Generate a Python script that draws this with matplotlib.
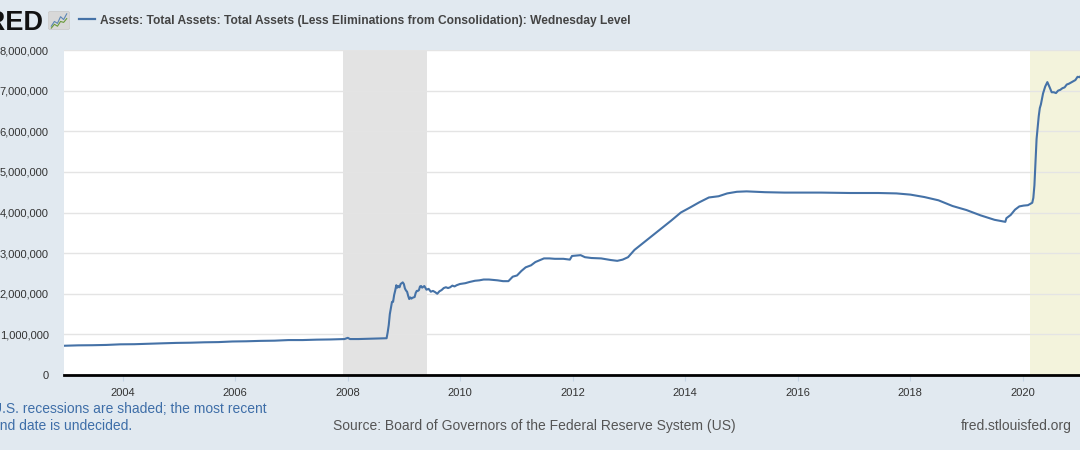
import numpy as np
import pandas as pd
import matplotlib
matplotlib.use("Agg")
import matplotlib.pyplot as plt
import matplotlib.dates as mdates
from matplotlib.patches import FancyBboxPatch

# Fed total assets, millions of USD
dates = [
    "2002-12-18", "2003-03-19", "2003-06-18", "2003-09-17", "2003-12-17",
    "2004-03-17", "2004-06-16", "2004-09-15", "2004-12-15", "2005-03-16",
    "2005-06-15", "2005-09-14", "2005-12-14", "2006-03-15", "2006-06-14",
    "2006-09-13", "2006-12-13", "2007-03-14", "2007-06-13", "2007-09-12",
    "2007-12-12", "2008-01-02", "2008-01-16", "2008-03-12", "2008-06-11",
    "2008-09-10", "2008-09-17", "2008-09-24", "2008-10-01", "2008-10-08",
    "2008-10-15", "2008-10-22", "2008-10-29", "2008-11-05", "2008-11-12",
    "2008-11-19", "2008-11-26", "2008-12-03", "2008-12-10", "2008-12-17",
    "2008-12-24", "2008-12-31", "2009-01-07", "2009-01-14", "2009-01-21",
    "2009-01-28", "2009-02-04", "2009-02-11", "2009-02-18", "2009-02-25",
    "2009-03-04", "2009-03-11", "2009-03-18", "2009-03-25", "2009-04-01",
    "2009-04-08", "2009-04-15", "2009-04-22", "2009-04-29", "2009-05-13",
    "2009-05-27", "2009-06-10", "2009-06-24", "2009-07-08", "2009-07-22",
    "2009-08-05", "2009-08-19", "2009-09-02", "2009-09-16", "2009-09-30",
    "2009-10-14", "2009-10-28", "2009-11-11", "2009-11-25", "2009-12-09",
    "2009-12-30", "2010-02-03", "2010-03-03", "2010-04-07", "2010-05-05",
    "2010-06-02", "2010-07-07", "2010-08-04", "2010-09-01", "2010-10-06",
    "2010-11-10", "2010-12-08", "2011-01-05", "2011-02-02", "2011-03-02",
    "2011-04-06", "2011-05-04", "2011-06-29", "2011-08-03", "2011-09-07",
    "2011-10-05", "2011-11-02", "2011-12-14", "2011-12-28", "2012-01-25",
    "2012-02-22", "2012-03-21", "2012-05-02", "2012-07-04", "2012-09-05",
    "2012-10-17", "2012-11-21", "2012-12-26", "2013-02-06", "2013-04-03",
    "2013-06-05", "2013-08-07", "2013-10-02", "2013-12-04", "2014-02-05",
    "2014-04-02", "2014-06-04", "2014-08-06", "2014-10-01", "2014-12-03",
    "2015-02-04", "2015-06-03", "2015-10-07", "2016-01-06", "2016-06-01",
    "2016-12-07", "2017-06-07", "2017-10-04", "2018-01-03", "2018-04-04",
    "2018-07-04", "2018-10-03", "2019-01-02", "2019-04-03", "2019-07-03",
    "2019-09-11", "2019-09-18", "2019-10-16", "2019-11-13", "2019-12-11",
    "2020-01-08", "2020-02-05", "2020-03-04", "2020-03-11", "2020-03-18",
    "2020-03-25", "2020-04-01", "2020-04-08", "2020-04-15", "2020-04-22",
    "2020-04-29", "2020-05-13", "2020-05-27", "2020-06-10", "2020-06-24",
    "2020-07-08", "2020-07-22", "2020-08-05", "2020-08-19", "2020-09-02",
    "2020-09-16", "2020-09-30", "2020-10-14", "2020-10-28", "2020-11-11",
    "2020-11-25", "2020-12-09", "2020-12-23", "2021-01-06", "2021-01-20",
    "2021-02-03",
]
assets = [
    720000, 730000, 733000, 740000, 755000,
    758000, 770000, 780000, 790000, 795000,
    805000, 810000, 825000, 830000, 840000,
    845000, 860000, 860000, 870000, 875000,
    885000, 915000, 885000, 885000, 895000,
    905000, 1050000, 1230000, 1500000, 1650000,
    1800000, 1800000, 1970000, 2080000, 2210000,
    2150000, 2190000, 2160000, 2240000, 2260000,
    2280000, 2240000, 2130000, 2080000, 2050000,
    1950000, 1870000, 1910000, 1880000, 1900000,
    1910000, 1920000, 2020000, 2070000, 2070000,
    2090000, 2180000, 2190000, 2150000, 2190000,
    2100000, 2120000, 2050000, 2070000, 2040000,
    2000000, 2060000, 2090000, 2140000, 2160000,
    2140000, 2160000, 2200000, 2180000, 2210000,
    2240000, 2260000, 2290000, 2320000, 2330000,
    2350000, 2350000, 2340000, 2330000, 2310000,
    2310000, 2420000, 2450000, 2560000, 2650000,
    2700000, 2780000, 2870000, 2870000, 2860000,
    2860000, 2860000, 2840000, 2930000, 2940000,
    2950000, 2900000, 2880000, 2870000, 2830000,
    2810000, 2840000, 2900000, 3080000, 3250000,
    3440000, 3630000, 3800000, 4000000, 4130000,
    4250000, 4370000, 4400000, 4470000, 4510000,
    4520000, 4500000, 4490000, 4490000, 4490000,
    4480000, 4480000, 4470000, 4440000, 4380000,
    4300000, 4160000, 4060000, 3930000, 3820000,
    3770000, 3860000, 3940000, 4070000, 4150000,
    4170000, 4180000, 4240000, 4360000, 4670000,
    5250000, 5810000, 6080000, 6370000, 6570000,
    6660000, 6930000, 7100000, 7210000, 7090000,
    6960000, 6960000, 6940000, 7000000, 7020000,
    7060000, 7080000, 7150000, 7170000, 7200000,
    7230000, 7260000, 7340000, 7330000, 7400000,
    7430000,
]

recessions = [("2007-12-01", "2009-06-01", "#e3e3e3"),
              ("2020-02-20", "2021-06-01", "#f3f3dc")]
y_ticks = [0, 1000000, 2000000, 3000000, 4000000, 5000000, 6000000, 7000000, 8000000]

title = "Assets: Total Assets: Total Assets (Less Eliminations from Consolidation): Wednesday Level"
note_1 = "U.S. recessions are shaded; the most recent"
note_2 = "end date is undecided."
source = "Source: Board of Governors of the Federal Reserve System (US)"

# little FRED chart icon
icon_blue = [0.2, 0.45, 0.35, 0.7, 0.55, 0.85]
icon_green = [0.1, 0.3, 0.2, 0.45, 0.4, 0.6]

BG = "#e1e9f0"
BLUE = "#4572a7"
W, H = 1080, 450
plt.rcParams["font.family"] = ["Liberation Sans", "DejaVu Sans"]


def fx(x):
    return x / W


def fy(y):
    return 1 - y / H


fig = plt.figure(figsize=(W / 100, H / 100), dpi=100, facecolor=BG)
ax = fig.add_axes([fx(64), fy(375), 1 - fx(64), (375 - 50) / H])

x = pd.to_datetime(dates)
for start, end, col in recessions:
    ax.axvspan(pd.Timestamp(start), pd.Timestamp(end), color=col, lw=0, zorder=0)
ax.plot(x, assets, color=BLUE, lw=1.5, zorder=3)

ax.set_xlim(pd.Timestamp("2002-12-16"), pd.Timestamp("2021-01-08"))
ax.set_ylim(0, 8000000)
ax.set_yticks(y_ticks)
ax.yaxis.set_major_formatter(matplotlib.ticker.FuncFormatter(lambda v, p: f"{int(v):,}"))
ax.xaxis.set_major_locator(mdates.YearLocator(2))
ax.xaxis.set_major_formatter(mdates.DateFormatter("%Y"))
ax.grid(axis="y", color="#e4e4e4", lw=1, zorder=1)
ax.set_axisbelow(True)
for s in ["left", "right", "top"]:
    ax.spines[s].set_visible(False)
ax.spines["bottom"].set_linewidth(2)
ax.spines["bottom"].set_color("black")
ax.spines["bottom"].set_zorder(4)
ax.tick_params(axis="y", length=0, pad=11, labelsize=8, labelcolor="#333333")
ax.tick_params(axis="x", length=4, width=0.8, color="#c5d5e5", pad=5,
               labelsize=8, labelcolor="#333333")

# header
fig.text(fx(43), fy(30), "FRED", ha="right", va="baseline", fontsize=19.5,
         fontweight="bold", family=["Liberation Sans Narrow", "Liberation Sans"],
         color="#111111")
iax = fig.add_axes([fx(48), fy(30), 22 / W, 19 / H])
iax.set_xlim(-0.1, 1.1)
iax.set_ylim(0, 1)
iax.axis("off")
iax.add_patch(FancyBboxPatch((0, 0.02), 1, 0.96, boxstyle="round,pad=0,rounding_size=0.12",
                             fc="#d8d8d8", ec="#c8c8c8", lw=0.5, transform=iax.transAxes))
iax.plot(np.linspace(0.08, 0.92, len(icon_blue)), icon_blue, color="#5b86b5", lw=0.8)
iax.plot(np.linspace(0.08, 0.92, len(icon_green)), icon_green, color="#6a9a3a", lw=0.8)

fig.add_artist(plt.Line2D([fx(79), fx(95)], [fy(19), fy(19)], color=BLUE, lw=1.6))
fig.text(fx(100), fy(24), title, ha="left", va="baseline", fontsize=8.65,
         fontweight="bold", color="#444444")

# footer
fig.text(fx(-8), fy(413), note_1, ha="left", va="baseline", fontsize=10, color="#3e6ea8")
fig.text(fx(-8), fy(430), note_2, ha="left", va="baseline", fontsize=10, color="#3e6ea8")
fig.text(fx(333), fy(430), source, ha="left", va="baseline", fontsize=10, color="#555555")
fig.text(fx(1072), fy(430), "fred.stlouisfed.org", ha="right", va="baseline",
         fontsize=10, color="#555555")

fig.savefig("out.png", dpi=100, facecolor=BG)
